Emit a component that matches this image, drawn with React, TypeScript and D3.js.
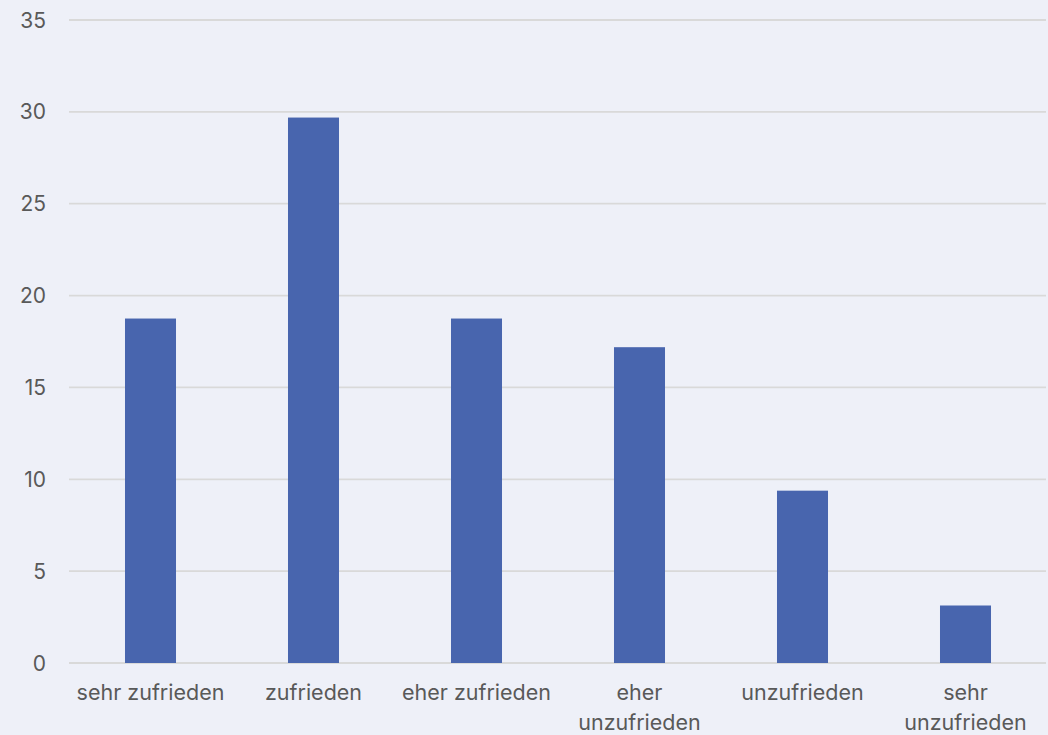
import React from "react";
import * as d3 from "d3";

// Zufriedenheit der Befragten (Anteile in %)
const categories: string[][] = [
  ["sehr zufrieden"],
  ["zufrieden"],
  ["eher zufrieden"],
  ["eher", "unzufrieden"],
  ["unzufrieden"],
  ["sehr", "unzufrieden"],
];
const values: number[] = [18.75, 29.69, 18.75, 17.19, 9.38, 3.13];
const yTicks: number[] = [0, 5, 10, 15, 20, 25, 30, 35];

const W = 1048;
const H = 735;
const margin = { top: 20, right: 1, bottom: 72, left: 69 };

export default function App() {
  const keys = categories.map((c) => c.join(" "));
  const x = d3
    .scaleBand<string>()
    .domain(keys)
    .range([margin.left, W - margin.right])
    .paddingInner(0.687)
    .paddingOuter(0.3435);
  const y = d3
    .scaleLinear()
    .domain([0, 35])
    .range([H - margin.bottom, margin.top]);

  const font = "Inter, 'Noto Sans', sans-serif";

  return (
    <svg
      width={W}
      height={H}
      style={{ position: "absolute", left: 0, top: 0, background: "#EEF0F8" }}
      fontFamily={font}
    >
      <rect x={0} y={0} width={W} height={H} fill="#EEF0F8" />
      {yTicks.map((t) => (
        <g key={t}>
          <line
            x1={margin.left}
            x2={W - margin.right - 1}
            y1={y(t)}
            y2={y(t)}
            stroke="#D9D9D9"
            strokeWidth={1.8}
          />
          <text
            x={46}
            y={y(t)}
            dy="0.36em"
            textAnchor="end"
            fontSize={21}
            fill="#595959"
          >
            {t}
          </text>
        </g>
      ))}
      {values.map((v, i) => (
        <rect
          key={keys[i]}
          x={x(keys[i])}
          y={y(v)}
          width={x.bandwidth()}
          height={y(0) - y(v)}
          fill="#4865AE"
        />
      ))}
      {categories.map((lines, i) => (
        <text
          key={keys[i]}
          x={(x(keys[i]) ?? 0) + x.bandwidth() / 2}
          y={y(0) + 29}
          textAnchor="middle"
          fontSize={21.5}
          fill="#595959"
        >
          {lines.map((l, j) => (
            <tspan key={j} x={(x(keys[i]) ?? 0) + x.bandwidth() / 2} dy={j === 0 ? "0.36em" : 30}>
              {l}
            </tspan>
          ))}
        </text>
      ))}
    </svg>
  );
}
